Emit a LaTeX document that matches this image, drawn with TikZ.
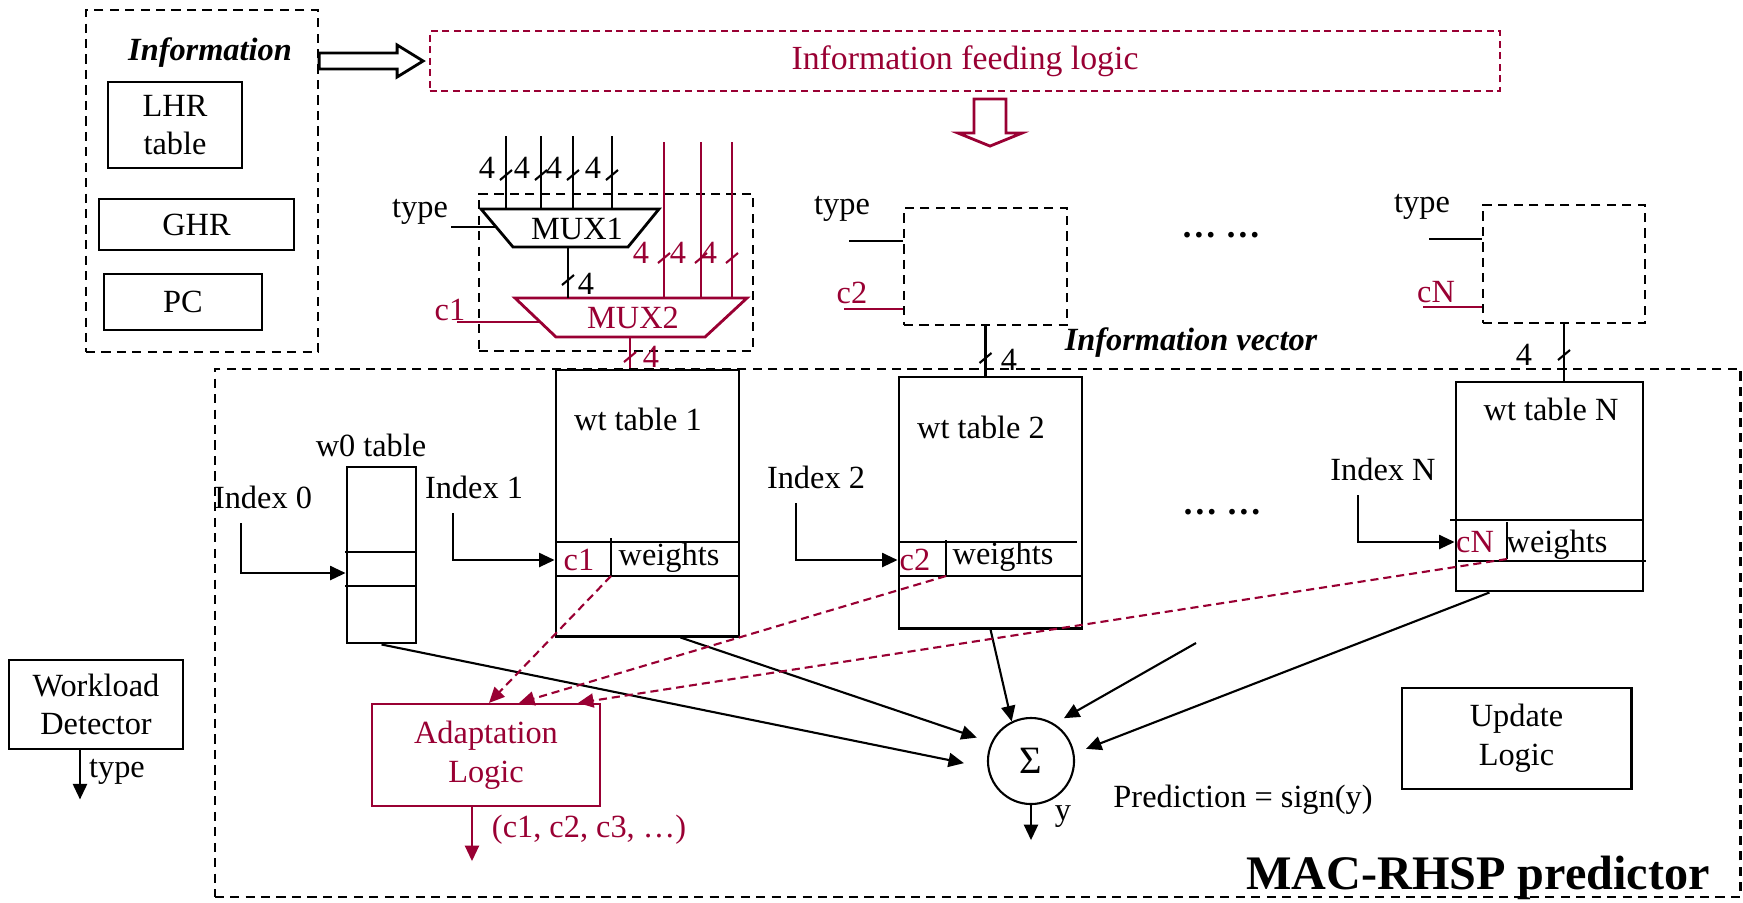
\documentclass[tikz,border=0pt]{standalone}
\usepackage{fontspec}
\setmainfont{Liberation Serif}
\usetikzlibrary{arrows.meta, positioning, calc}
\definecolor{logicred}{RGB}{153,0,51}
\newcommand{\busmark}[2][]{\draw[#1] (#2) ++(-6,5) -- ++(12,-10);}

\begin{document}
\begin{tikzpicture}[
  x=0.01cm, y=-0.01cm,
  line width=0.6pt,
  font=\fontsize{9.2}{11}\selectfont,
  box/.style={draw, line width=0.8pt, align=center, inner sep=0pt},
  dbox/.style={draw, dash pattern=on 2.6pt off 1.8pt, inner sep=0pt},
  lbl/.style={inner sep=0pt},
  title/.style={inner sep=0pt, font=\fontsize{9.2}{11}\selectfont\bfseries\itshape},
  arrow/.style={-{Triangle[length=4.4pt, width=4pt]}},
  redarrow/.style={-{Triangle[length=4.4pt, width=4pt]}, logicred, dash pattern=on 2.3pt off 1.4pt}
]
  \useasboundingbox (0,0) rectangle (1743,902);

  % Information sources
  \node[dbox, minimum width=2.32cm, minimum height=3.42cm] (info) at (202,181) {};
  \node[title] (infotitle) at (210,53) {Information};
  \node[box, minimum width=1.34cm, minimum height=0.86cm] (lhr) at (175,125) {LHR\\table};
  \node[box, minimum width=1.95cm, minimum height=0.51cm] (ghr) at (196.5,224.5) {GHR};
  \node[box, minimum width=1.58cm, minimum height=0.56cm] (pc) at (183,302) {PC};

  % Information feeding logic
  \node[draw=logicred, dash pattern=on 2pt off 1.3pt, text=logicred, minimum width=10.7cm, minimum height=0.6cm, font=\fontsize{9.6}{11}\selectfont] (feed) at (965,61) {Information feeding logic};
  \draw[line width=0.8pt] (info.east |- feed.west) ++(0,-8) -- ++(78,0) -- ++(0,-8) -- ++(26,16) -- ++(-26,16) -- ++(0,-8) -- ++(-78,0) -- cycle;
  \draw[logicred, line width=0.8pt] (feed.south) ++(9,7) -- ++(32,0) -- ++(0,34) -- ++(16,0) -- ++(-32,13) -- ++(-32,-13) -- ++(16,0) -- cycle;

  % MUX1 and MUX2
  \node[dbox, minimum width=2.74cm, minimum height=1.57cm] (mux) at (616,272.5) {};
  \draw[line width=0.8pt] (481,209) -- (659,209) -- (628,247) -- (513,247) -- cycle;
  \node[lbl] (mux1) at (577,229) {MUX1};
  \draw[logicred, line width=0.8pt] (515,298) -- (747,298) -- (705,337) -- (556,337) -- cycle;
  \node[lbl, text=logicred] (mux2) at (633,318) {MUX2};
  \foreach \x in {506,541,573,612}{
    \draw (\x,136) -- (\x,209);
    \busmark{\x,175}
    \node[lbl] (in\x) at (\x-19,168) {4};
  }
  \foreach \x in {664,701,732}{
    \draw[logicred] (\x,142) -- (\x,298);
    \busmark[logicred]{\x,258}
    \node[lbl, text=logicred] (rin\x) at (\x-23,253) {4};
  }
  \node[lbl] (type1) at (420,212) {type};
  \draw (type1) ++(31,15) -- ++(45,0);
  \node[lbl, text=logicred] (c1in) at (450,310) {c1};
  \draw[logicred] (c1in) ++(7,12) -- ++(83,0);
  \draw (568,247) -- (568,298);
  \busmark{568,280}
  \node[lbl] (b12) at (586,284) {4};
  \draw[logicred] (630,337) -- (630,370);
  \busmark[logicred]{630,357}
  \node[lbl, text=logicred] (b2) at (651,357) {4};

  % other selectors
  \node[dbox, minimum width=1.63cm, minimum height=1.17cm] (box2) at (985.5,266.5) {};
  \node[lbl] (type2) at (842,209) {type};
  \draw (box2.west) ++(0,-25.5) -- ++(-54,0);
  \node[lbl, text=logicred] (c2in) at (852,293) {c2};
  \draw[logicred] (box2.west) ++(0,42.5) -- ++(-59,0);
  \node[dbox, minimum width=1.62cm, minimum height=1.18cm] (boxN) at (1564,264) {};
  \node[lbl] (typeN) at (1422,207) {type};
  \draw (boxN.west) ++(0,-25) -- ++(-53,0);
  \node[lbl, text=logicred] (cNin) at (1436,292) {cN};
  \draw[logicred] (boxN.west) ++(0,43) -- ++(-59,0);
  \node[lbl, font=\bfseries] (dots1) at (1221,235) {\ldots\ \ldots};
  \node[title] (ivec) at (1191,343) {Information vector};

  % MAC-RHSP predictor
  \node[dbox, minimum width=15.25cm, minimum height=5.28cm] (pred) at (977.5,633) {};
  \node[lbl, font=\fontsize{13.7}{16}\selectfont\bfseries] (predtitle) at (1478,878) {MAC-RHSP predictor};

  % w0 table
  \node[box, minimum width=0.69cm, minimum height=1.76cm] (w0) at (381.5,555) {};
  \draw (345,552) -- (416,552) (345,586) -- (416,586);
  \node[lbl] (w0t) at (371,445) {w0 table};

  % wt table 1
  \node[box, minimum width=1.83cm, minimum height=2.66cm] (wt1) at (647.5,503) {};
  \node[lbl] (wt1t) at (638,419) {wt table 1};
  \draw (556,542) -- (739,542) (556,576) -- (739,576);
  \coordinate (d1) at (611,576);
  \draw (d1) -- ++(0,-38);
  \node[lbl, text=logicred] (c1) at (579,560) {c1};
  \node[lbl] (wts1) at (669,558) {weights};

  % wt table 2
  \node[box, minimum width=1.83cm, minimum height=2.51cm] (wt2) at (990.5,502.5) {};
  \node[lbl] (wt2t) at (981,427) {wt table 2};
  \draw (899,542) -- (1077,542) (899,576) -- (1082,576);
  \coordinate (d2) at (946,576);
  \draw (d2) -- ++(0,-36);
  \node[lbl, text=logicred] (c2) at (915,560) {c2};
  \node[lbl] (wts2) at (1003,557) {weights};

  % wt table N
  \node[box, minimum width=1.87cm, minimum height=2.09cm] (wtN) at (1549.5,486.5) {};
  \node[lbl] (wtNt) at (1551,409) {wt table N};
  \draw (1450,520) -- (1643,520) (1458,561) -- (1646,561);
  \coordinate (dN) at (1507,559);
  \draw (dN) -- ++(0,-37);
  \node[lbl, text=logicred] (cN) at (1475,542) {cN};
  \node[lbl] (wtsN) at (1557,545) {weights};
  \node[lbl, font=\bfseries] (dots2) at (1222,512) {\ldots\ \ldots};

  % selector outputs
  \draw (box2.south) -- (box2.south |- wt2.north);
  \busmark{985.5,358}
  \node[lbl] (n2) at (1009,360) {4};
  \draw (boxN.south) -- (boxN.south |- wtN.north);
  \busmark{1564,355}
  \node[lbl] (nN) at (1524,355) {4};

  % index inputs
  \node[lbl] (idx0) at (263,497) {Index 0};
  \draw[arrow] (idx0) ++(-22,26) |- ([yshift=-0.18cm]w0.west);
  \node[lbl] (idx1) at (474,487) {Index 1};
  \draw[arrow] (idx1) ++(-21,26) |- (wt1.west |- c1);
  \node[lbl] (idx2) at (816,477) {Index 2};
  \draw[arrow] (idx2) ++(-20,26) |- (wt2.west |- c2);
  \node[lbl] (idxN) at (1383,469) {Index N};
  \draw[arrow] (idxN) ++(-25,26) |- (wtN.west |- cN);

  % adder
  \node[draw, circle, minimum size=0.86cm, inner sep=0pt, font=\fontsize{11}{13}\selectfont] (sigma) at (1031,761) {Σ};
  \coordinate (free) at (1196,643);
  \draw[arrow, shorten >=0.24cm] (w0.south) -- (sigma.189);
  \draw[arrow, shorten >=0.15cm] ([xshift=0.33cm]wt1.south) -- (sigma.155);
  \draw[arrow] (wt2.south) -- (sigma.116);
  \draw[arrow, shorten >=0.11cm] (free) -- (sigma.58);
  \draw[arrow, shorten >=0.125cm] ([xshift=-0.6cm]wtN.south) -- (sigma.10);
  \draw[arrow] (sigma.south) -- ++(0,35);
  \node[lbl] (yout) at (1063,817) {y};
  \node[lbl] (sign) at (1243,800) {Prediction = sign(y)};

  % adaptation logic
  \node[box, line width=0.6pt, draw=logicred, text=logicred, minimum width=2.28cm, minimum height=1.02cm] (adapt) at (486,755) {Adaptation\\Logic};
  \draw[redarrow] (d1) -- ([xshift=0.03cm]adapt.north);
  \draw[redarrow] (d2) -- ([xshift=0.33cm]adapt.north);
  \draw[redarrow] (dN) -- ([xshift=0.92cm]adapt.north);
  \draw[arrow, logicred] ([xshift=-0.14cm]adapt.south) -- ++(0,54);
  \node[lbl, text=logicred] (cvec) at (589,830) {(c1, c2, c3, …)};

  % update logic
  \node[box, minimum width=2.29cm, minimum height=1.01cm] (upd) at (1516.5,738.5) {Update\\Logic};

  % workload detector
  \node[box, minimum width=1.74cm, minimum height=0.89cm] (wd) at (96,704.5) {Workload\\Detector};
  \draw[arrow] ([xshift=-0.16cm]wd.south) -- ++(0,49);
  \node[lbl] (wdtype) at (117,772) {type};
\end{tikzpicture}
\end{document}
